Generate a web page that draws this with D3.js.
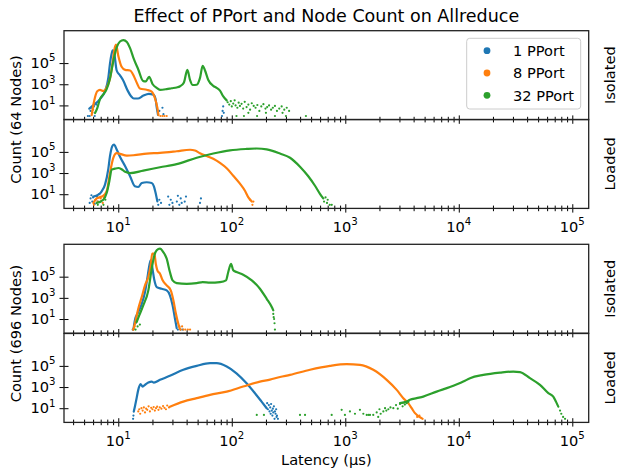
<!DOCTYPE html>
<html><head><meta charset="utf-8">
<script src="https://cdn.jsdelivr.net/npm/d3@7"></script>
<style>
body{margin:0;background:#fff;}
text{font-family:"DejaVu Sans",sans-serif;fill:#000;}
</style>
</head><body>
<svg id="c" width="618" height="472"></svg>
<script>
// ---------------- data ----------------
const seriesNames = ["1 PPort", "8 PPort", "32 PPort"];
const seriesColors = ["#1f77b4", "#ff7f0e", "#2ca02c"];
const xTickValues = [10, 100, 1000, 10000, 100000];
const yTickValues = [10, 1000, 100000];
const rowLabels = ["Isolated", "Loaded", "Isolated", "Loaded"];
const groupLabels = ["Count (64 Nodes)", "Count (696 Nodes)"];
const xAxisTitle = "Latency (µs)";
const chartTitle = "Effect of PPort and Node Count on Allreduce";

// [latency (µs), count] – Isolated, 64 nodes
const iso64_1 = [[5.55,5],[6.03,10],[6.9,40],[7.64,220],[8.17,4000],[8.45,9e4],[8.7,6e5],[8.93,1.6e6],[9.2,9e5],[9.68,2e4],[10.35,7000],[11.0,2500],[12.1,250],[13.0,70],[13.7,45],[14.9,45],[16.5,80],[18.6,125],[20.4,100],[21.3,40],[21.9,5],[22.4,1.3]];
const iso64_8 = [[5.83,1.2],[6.03,11],[6.24,60],[6.53,220],[6.9,290],[7.38,230],[7.9,500],[8.45,3500],[8.93,1.2e5],[9.2,1.5e6],[9.55,5.5e6],[10.0,5e5],[10.7,4.5e4],[11.5,2.3e4],[12.7,2.0e4],[13.7,6000],[14.5,1500],[15.5,400],[17.8,300],[19.7,200],[21.0,50],[22.1,6],[22.6,1.2]];
const iso64_32 = [[6.24,1.9],[6.53,5.6],[6.9,40],[7.38,110],[7.9,350],[8.45,3500],[9.04,1.5e5],[9.68,3e6],[10.35,1.1e7],[11.1,1.5e7],[11.9,1e7],[12.7,2.6e6],[13.7,2.5e5],[15.0,2.5e4],[16.6,2000],[17.5,1900],[18.7,5000],[20.1,1000],[21.8,450],[23.3,300],[26.7,350],[29.5,420],[32.7,500],[35.0,650],[37.9,1500],[40.6,2.3e4],[42.9,2500],[45.3,850],[49.1,900],[52.5,4000],[55.4,5.5e4],[58.1,2.0e4],[62.1,2500],[68.7,700],[73.6,450],[78.7,250],[84.2,70],[90.2,30]];
const iso64_1_pts = [[5.4,1],[5.6,1],[5.7,3],[5.8,6],[5.9,2],[6.1,8],[6.2,1],[6.4,12],[23,3],[24.5,6],[25,1.5],[82,1],[83,3],[84,8],[85,2]];
const iso64_8_pts = [[5.9,2],[6.0,4],[23.5,1],[24.5,1],[25.5,1],[26.7,1]];
const iso64_32_pts = [[92,20],[95,12],[98,25],[100,8],[103,15],[106,30],[108,10],[112,6],[115,18],[118,9],[122,14],[126,5],[130,22],[135,7],[140,12],[145,4],[150,16],[156,9],[162,6],[168,11],[175,3],[182,8],[190,13],[198,5],[205,7],[213,10],[222,4],[230,6],[240,9],[250,3],[262,5],[275,8],[290,4],[305,6],[320,3],[110,1],[128,1],[167,1],[240,1],[300,1],[450,1],[140,2],[200,2],[280,2]];

// Loaded, 64 nodes
const load64_1 = [[6.03,6],[6.67,9],[7.14,19],[7.64,80],[8.17,2500],[8.45,3.9e4],[8.85,3.4e5],[9.17,5e5],[9.68,1.7e5],[10.35,3.5e4],[11.5,4400],[12.7,500],[14.0,56],[15.0,48],[16.1,115],[17.8,135],[19.7,115],[20.6,56],[21.5,9],[22.1,2.1]];
const load64_8 = [[6.03,1.5],[6.45,4],[7.14,6],[7.64,10],[8.0,30],[8.45,1000],[9.04,2.7e4],[9.68,7.5e4],[10.35,6.5e4],[11.9,4.5e4],[13.6,4.8e4],[17.8,6.9e4],[23.3,8e4],[32.7,1.15e5],[42.9,1.6e5],[47.4,1.35e5],[52.5,7.5e4],[60.1,4e4],[68.7,2.2e4],[78.7,9000],[90.2,2800],[103,560],[118,100],[131,20],[140,5],[150,2]];
const load64_32 = [[6.45,1.5],[7.38,3],[7.9,13],[8.34,170],[8.75,2100],[9.35,2600],[10.0,3000],[10.7,2300],[11.5,1300],[12.7,1000],[16.6,1700],[23.3,3500],[32.7,7000],[49.1,2.8e4],[68.7,7e4],[96.4,1.4e5],[135,1.9e5],[166,2.1e5],[203,1.75e5],[266,7e4],[326,2.8e4],[399,4000],[472,500],[541,63],[598,11],[640,4]];
const load64_1_pts = [[5.6,1.5],[5.7,4],[5.8,8],[5.9,2],[6.0,5],[6.2,1.2],[6.3,3],[6.5,6],[6.6,2],[6.8,10],[22.5,1],[23,3],[23.8,1.5],[27.5,6],[28.2,1],[29,3],[30,1.5],[32.8,2],[33.5,7],[34.5,1],[35.5,4],[36.2,1.5],[38.5,2],[39.5,6],[52.5,1.5],[53.5,4]];
const load64_8_pts = [[6.1,1],[6.3,3],[6.6,2],[7.0,4],[7.3,1.5],[7.5,5],[145,3],[152,1],[155,2]];
const load64_32_pts = [[6.6,1],[7.0,2],[7.4,1],[7.7,3],[650,2],[670,5],[690,1.5],[700,3],[730,1],[760,1]];

// Isolated, 696 nodes
const iso696_1 = [[13.6,1.05],[14.0,7.4],[15.0,46],[16.1,275],[17.2,3550],[18.0,6.5e4],[18.8,1.2e6],[19.3,3.5e6],[19.9,8.3e5],[20.8,4.5e4],[21.8,1.05e4],[24.1,7200],[26.7,5100],[28.5,1740],[30.1,195],[31.6,10.5],[32.7,1.4]];
const iso696_8 = [[13.6,1],[14.0,3.5],[15.0,93],[16.1,1200],[17.2,1.5e4],[18.4,9.3e4],[19.3,1.2e6],[19.9,1.5e7],[20.8,1.5e7],[21.4,1.66e6],[22.1,4e5],[23.3,1.9e5],[24.6,4.5e4],[26.7,1.5e4],[29.0,5100],[30.6,575],[32.2,31],[33.8,3.5],[35.0,1.05]];
const iso696_32 = [[14.5,5.1],[15.3,22],[16.6,195],[18.4,5100],[19.7,5.6e5],[20.8,1.05e7],[21.8,3.1e7],[23.3,4.4e7],[24.9,2.1e7],[26.7,5e6],[28.5,2.75e5],[30.1,4.5e4],[32.7,2.5e4],[40.1,2.1e4],[49.1,2.5e4],[55.4,3.1e4],[64.3,2.7e4],[78.7,3.1e4],[88.9,4.5e4],[93.1,2.75e5],[98.4,1.66e6],[103,4e5],[110,2.75e5],[126,1.55e5],[150,4.5e4],[177,7200],[203,810],[225,135],[232,66]];
const iso696_1_pts = [[13.4,1],[13.8,2],[14.2,4],[33.5,1],[34.5,2],[35.5,1],[37,1]];
const iso696_8_pts = [[13.5,1],[13.9,2],[35.5,1],[36.5,2],[37.5,1],[39,1],[41,1],[42.9,1]];
const iso696_32_pts = [[14.2,1],[14.8,2],[15.5,3],[232,30],[234,15],[236,10],[238,4],[240,1]];

// Loaded, 696 nodes
const load696_1 = [[13.7,4.8],[14.0,14],[14.5,89],[15.0,540],[15.7,1860],[16.4,1120],[17.2,1620],[18.4,2630],[19.7,3300],[20.6,2630],[23.3,4800],[28.5,1.15e4],[37.4,4.3e4],[49.1,1e5],[64.3,1.8e5],[73.6,1.8e5],[90.2,8.7e4],[110,2e4],[135,2300],[160,263],[183,42],[203,10]];
const load696_8 = [[28.5,14],[37.4,42],[49.1,89],[64.3,182],[90.2,372],[126,1120],[177,3300],[217,5000],[266,9000],[326,1.4e4],[489,4.3e4],[733,1e5],[1028,1.45e5],[1346,1.26e5],[1764,4.3e4],[2316,4800],[2838,540],[3245,89],[3589,30],[3846,10],[4113,3.4],[4710,1.15]];
const load696_32 = [[3034,30],[3474,42],[3716,62],[4254,89],[4866,126],[6377,370],[8360,1000],[10960,3300],[12560,6900],[16450,1.4e4],[23070,2.3e4],[30200,2.9e4],[34600,2.6e4],[42400,6900],[51900,1620],[61500,263],[68000,126],[71800,42],[75300,14]];
const load696_1_pts = [[13.5,1],[13.6,2],[205,30],[208,8],[212,20],[215,5],[218,12],[220,3],[222,25],[225,6],[228,2],[230,9],[232,4],[235,15],[238,1],[240,5],[243,3],[246,8],[248,1.5],[250,2],[255,1]];
const load696_8_pts = [[15,5],[15.3,8],[15.6,3],[16,10],[16.4,6],[16.8,12],[17.2,4],[17.6,9],[18,7],[18.5,15],[19,5],[19.5,11],[20,8],[20.5,13],[21,6],[21.5,10],[22,14],[22.6,7],[23.2,12],[24,9],[24.8,16],[25.5,11],[26.3,8],[27,18],[28,12],[4300,1.5],[4500,2],[4800,1]];
const load696_32_pts = [[166,2.3],[192,2.3],[399,2.3],[442,2.3],[759,2.3],[929,7],[993,2.3],[1099,5],[1217,3],[1346,7],[1442,3],[1545,2.3],[1600,2.3],[1650,2.3],[1764,2.3],[1891,4],[1950,1.5],[2000,8],[2050,3],[2164,5],[2240,10],[2300,6],[2395,8],[2500,12],[2650,10],[2800,20],[2900,9],[3034,25],[3200,15],[3350,22],[3474,30],[3600,40],[78000,6],[80000,3],[83000,1.5],[86300,1]];

// ---------------- drawing ----------------
const svg = d3.select("#c");
const X0 = 64, X1 = 588.7;
const PH = 88.9;
const panels = [
  {top: 30.7,  lines: [iso64_1, iso64_8, iso64_32],  pts: [iso64_1_pts, iso64_8_pts, iso64_32_pts], labels: false},
  {top: 119.5, lines: [load64_1, load64_8, load64_32], pts: [load64_1_pts, load64_8_pts, load64_32_pts], labels: true},
  {top: 244.3, lines: [iso696_1, iso696_8, iso696_32], pts: [iso696_1_pts, iso696_8_pts, iso696_32_pts], labels: false},
  {top: 333.5, lines: [load696_1, load696_8, load696_32], pts: [load696_1_pts, load696_8_pts, load696_32_pts], labels: true}
];

const x = d3.scaleLog().domain([3.325, 139500]).range([X0, X1]);
const minorTicks = [];
for (let d = 1; d <= 1e5; d *= 10) for (let m = 2; m <= 9; m++) {
  const v = m * d; if (v > 3.325 && v < 139500) minorTicks.push(v);
}

function supLabel(sel, v) {
  const e = Math.round(Math.log10(v));
  sel.append("tspan").text("10");
  sel.append("tspan").attr("dy", -6.5).attr("font-size", 10.2).text(e);
}

panels.forEach((p, i) => {
  const y = d3.scaleLog().domain([Math.pow(10, -0.34), Math.pow(10, 8.06)]).range([p.top + PH, p.top]);
  const bottom = p.top + PH;
  const g = svg.append("g");
  const clipId = "clip" + i;
  svg.append("clipPath").attr("id", clipId).append("rect")
    .attr("x", X0).attr("y", p.top).attr("width", X1 - X0).attr("height", PH);
  const plot = g.append("g").attr("clip-path", `url(#${clipId})`);
  const line = d3.line().x(d => x(d[0])).y(d => y(d[1])).curve(d3.curveMonotoneX);
  seriesNames.forEach((s, k) => {
    plot.append("path").datum(p.lines[k]).attr("d", line)
      .attr("fill", "none").attr("stroke", seriesColors[k]).attr("stroke-width", 2.2)
      .attr("stroke-linejoin", "round").attr("stroke-linecap", "round");
    plot.selectAll(null).data(p.pts[k]).enter().append("circle")
      .attr("cx", d => x(d[0])).attr("cy", d => y(d[1])).attr("r", 1.1)
      .attr("fill", seriesColors[k]);
  });

  // x ticks (in-out)
  const major = g.append("g").attr("transform", `translate(0,${bottom - 4.2})`)
    .call(d3.axisBottom(x).tickValues(xTickValues).tickSize(8.4).tickFormat(""));
  const minor = g.append("g").attr("transform", `translate(0,${bottom - 2.8})`)
    .call(d3.axisBottom(x).tickValues(minorTicks).tickSize(5.6).tickFormat(""));
  [major, minor].forEach(a => { a.select(".domain").remove(); a.selectAll("line").attr("stroke", "#000").attr("stroke-width", 1); });

  // y ticks
  const yax = g.append("g").attr("transform", `translate(${X0 + 4.5},0)`)
    .call(d3.axisLeft(y).tickValues(yTickValues).tickSize(9).tickFormat(""));
  yax.select(".domain").remove();
  yax.selectAll("line").attr("stroke", "#000").attr("stroke-width", 1);

  yTickValues.forEach(v => {
    const t = g.append("text").attr("x", 55.5).attr("y", y(v) + 4.8)
      .attr("text-anchor", "end").attr("font-size", 14.6);
    supLabel(t, v);
  });
  if (p.labels) {
    xTickValues.forEach(v => {
      const t = g.append("text").attr("x", x(v)).attr("y", bottom + 23.5)
        .attr("text-anchor", "middle").attr("font-size", 14.6);
      supLabel(t, v);
    });
  }

  // frame
  g.append("rect").attr("x", X0).attr("y", p.top).attr("width", X1 - X0).attr("height", PH)
    .attr("fill", "none").attr("stroke", "#222").attr("stroke-width", 1.3);

  // right row label
  g.append("text").attr("transform", `translate(615,${p.top + PH / 2}) rotate(-90)`)
    .attr("text-anchor", "middle").attr("font-size", 14.6).text(rowLabels[i]);
});

// group y labels
svg.append("text").attr("transform", `translate(20.5,${119.5}) rotate(-90)`)
  .attr("text-anchor", "middle").attr("font-size", 14.6).text(groupLabels[0]);
svg.append("text").attr("transform", `translate(20.5,${333.5}) rotate(-90)`)
  .attr("text-anchor", "middle").attr("font-size", 14.6).text(groupLabels[1]);

// title and x-axis title
svg.append("text").attr("x", (X0 + X1) / 2).attr("y", 22).attr("text-anchor", "middle")
  .attr("font-size", 17.5).text(chartTitle);
svg.append("text").attr("x", (X0 + X1) / 2).attr("y", 465).attr("text-anchor", "middle")
  .attr("font-size", 14.6).text(xAxisTitle);

// legend
const lg = svg.append("g");
lg.append("rect").attr("x", 466.7).attr("y", 38.3).attr("width", 114).attr("height", 70.7)
  .attr("rx", 3).attr("fill", "#fff").attr("fill-opacity", 0.8)
  .attr("stroke", "#ccc").attr("stroke-width", 1);
seriesNames.forEach((s, k) => {
  const cy = 50.7 + k * 22.3;
  lg.append("circle").attr("cx", 487).attr("cy", cy).attr("r", 3.4).attr("fill", seriesColors[k]);
  lg.append("text").attr("x", 513).attr("y", cy + 5.3).attr("font-size", 14.6).text(s);
});
</script>
</body></html>
